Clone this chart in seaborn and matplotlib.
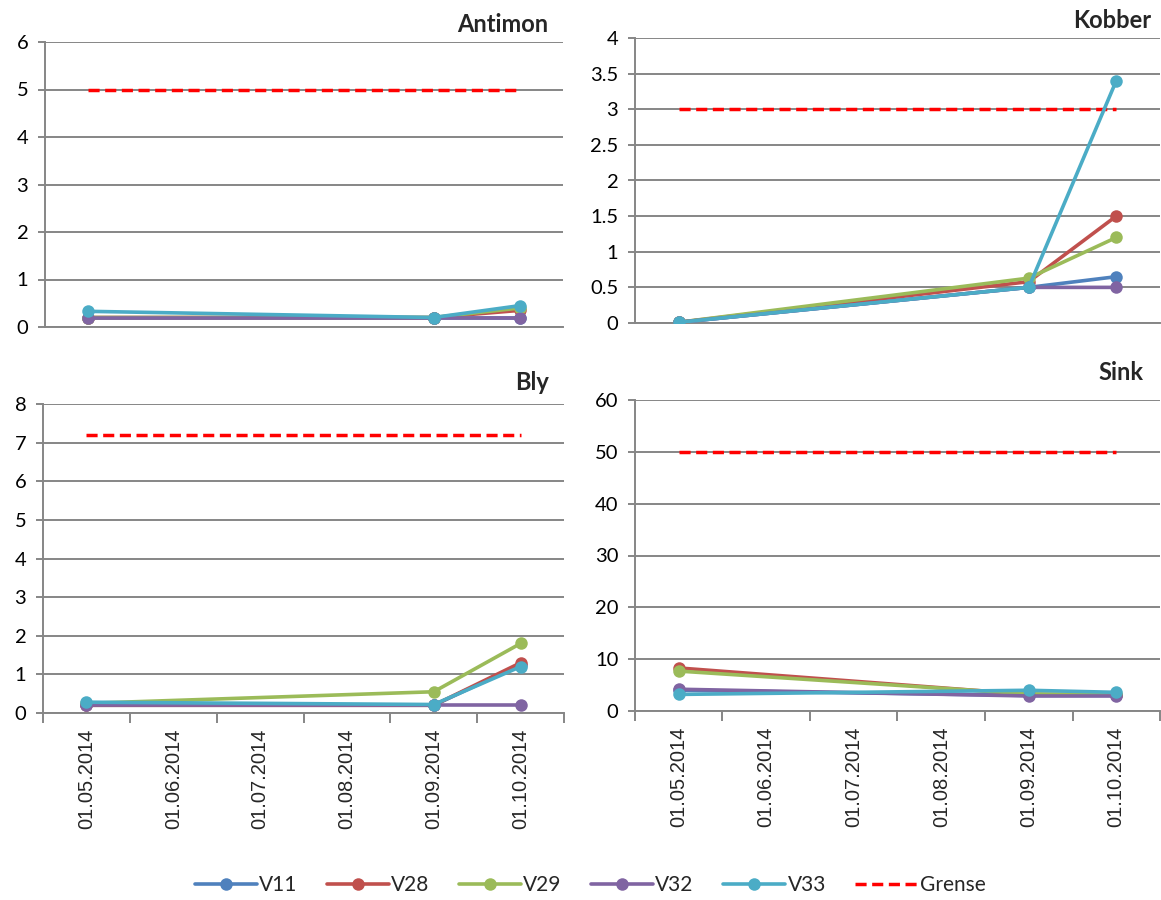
"""Heavy metals in water samples, four panels with limit lines."""

import matplotlib

matplotlib.use("Agg")
import matplotlib.pyplot as plt
from matplotlib.lines import Line2D
import pandas as pd
import seaborn as sns

sns.set_theme(style="white")
plt.rcParams["font.family"] = ["Lato", "DejaVu Sans"]

# month slots on the date axis and the sampling dates
months = ["01.05.2014", "01.06.2014", "01.07.2014", "01.08.2014", "01.09.2014", "01.10.2014"]
sample_dates = ["01.05.2014", "01.09.2014", "01.10.2014"]
stations = ["V11", "V28", "V29", "V32", "V33"]

antimon = {
    "V11": [0.2, 0.2, 0.2],
    "V28": [0.2, 0.2, 0.35],
    "V29": [0.2, 0.2, 0.4],
    "V32": [0.2, 0.2, 0.2],
    "V33": [0.33, 0.2, 0.45],
}
kobber = {
    "V11": [0.01, 0.5, 0.65],
    "V28": [0.01, 0.58, 1.5],
    "V29": [0.01, 0.63, 1.2],
    "V32": [0.01, 0.5, 0.5],
    "V33": [0.01, 0.5, 3.4],
}
bly = {
    "V11": [0.2, 0.2, 1.25],
    "V28": [0.2, 0.2, 1.3],
    "V29": [0.25, 0.55, 1.8],
    "V32": [0.2, 0.2, 0.2],
    "V33": [0.28, 0.22, 1.2],
}
sink = {
    "V11": [4.0, 3.0, 3.0],
    "V28": [8.3, 3.2, 3.1],
    "V29": [7.7, 3.3, 3.2],
    "V32": [4.2, 2.9, 2.9],
    "V33": [3.2, 4.0, 3.6],
}

metals = ["Antimon", "Kobber", "Bly", "Sink"]
metal_data = [antimon, kobber, bly, sink]
grense = [5, 3, 7.2, 50]
y_max = [6, 4, 8, 60]
y_step = [1, 0.5, 1, 10]

colors = ["#4F81BD", "#C0504D", "#9BBB59", "#8064A2", "#4BACC6"]
grid_color = "#868686"

W, H = 1161, 900
# axes boxes in pixels: left, top, right, bottom
boxes = [(45, 42, 563, 327), (635, 38, 1160, 323), (43, 404, 564, 713), (635, 400, 1160, 711)]
title_pos = [(548, 25), (1151, 20), (549, 383), (1143, 373)]

fig = plt.figure(figsize=(W / 100, H / 100), dpi=100)

for i, (metal, data) in enumerate(zip(metals, metal_data)):
    l, t, r, b = boxes[i]
    ax = fig.add_axes([l / W, 1 - b / H, (r - l) / W, (b - t) / H])

    frame = pd.DataFrame(
        [
            {"station": s, "pos": months.index(d), "value": v}
            for s in stations
            for d, v in zip(sample_dates, data[s])
        ]
    )
    limit = pd.DataFrame(
        {"pos": [months.index(sample_dates[0]), months.index(sample_dates[-1])],
         "value": [grense[i], grense[i]]}
    )

    sns.lineplot(data=limit, x="pos", y="value", color="#FF0000", lw=2.5,
                 dashes=False, ax=ax, legend=False, zorder=2)
    ax.lines[-1].set_dashes((3.2, 1.6))
    sns.lineplot(data=frame, x="pos", y="value", hue="station", hue_order=stations,
                 palette=colors, marker="o", markersize=9, markeredgewidth=0,
                 lw=2.6, ax=ax, legend=False, sort=False, zorder=3)

    ax.set_xlim(-0.5, len(months) - 0.5)
    ax.set_ylim(0, y_max[i])
    ticks = [k * y_step[i] for k in range(int(round(y_max[i] / y_step[i])) + 1)]
    ax.set_yticks(ticks)
    ax.set_yticklabels([f"{v:g}" for v in ticks], fontsize=14.5)
    ax.yaxis.grid(True, color=grid_color, lw=1.4)
    ax.set_axisbelow(True)
    ax.set_xlabel("")
    ax.set_ylabel("")
    for side in ["top", "right"]:
        ax.spines[side].set_visible(False)
    ax.spines["left"].set_color(grid_color)
    ax.spines["left"].set_linewidth(1.4)
    ax.spines["bottom"].set_color(grid_color)
    ax.spines["bottom"].set_linewidth(1.4)
    ax.tick_params(axis="y", length=5, width=1.4, color=grid_color, left=True, pad=7,
                   labelcolor="black")

    if i >= 2:
        ax.set_xticks(range(len(months)))
        ax.set_xticklabels(months, rotation=90, fontsize=14.5, family="Liberation Sans")
        ax.set_xticks([k - 0.5 for k in range(len(months) + 1)], minor=True)
        ax.tick_params(axis="x", which="major", length=0, pad=11)
        ax.tick_params(axis="x", which="minor", length=7, width=1.4, color=grid_color,
                       bottom=True)
    else:
        ax.set_xticks([])

    fig.text(title_pos[i][0] / W, 1 - title_pos[i][1] / H, metal, ha="right",
             va="center", fontsize=17, fontweight="bold")

handles = [
    Line2D([], [], color=c, lw=2.6, marker="o", markersize=9, markeredgewidth=0)
    for c in colors
]
handles.append(Line2D([], [], color="#FF0000", lw=2.5, dashes=(3.2, 1.6)))
fig.legend(handles, stations + ["Grense"], loc="center",
           bbox_to_anchor=(590 / W, 1 - 885 / H), ncol=6, frameon=False, fontsize=15,
           handlelength=3.0, handletextpad=0.1, columnspacing=1.4)

fig.savefig("out.png", dpi=100)
